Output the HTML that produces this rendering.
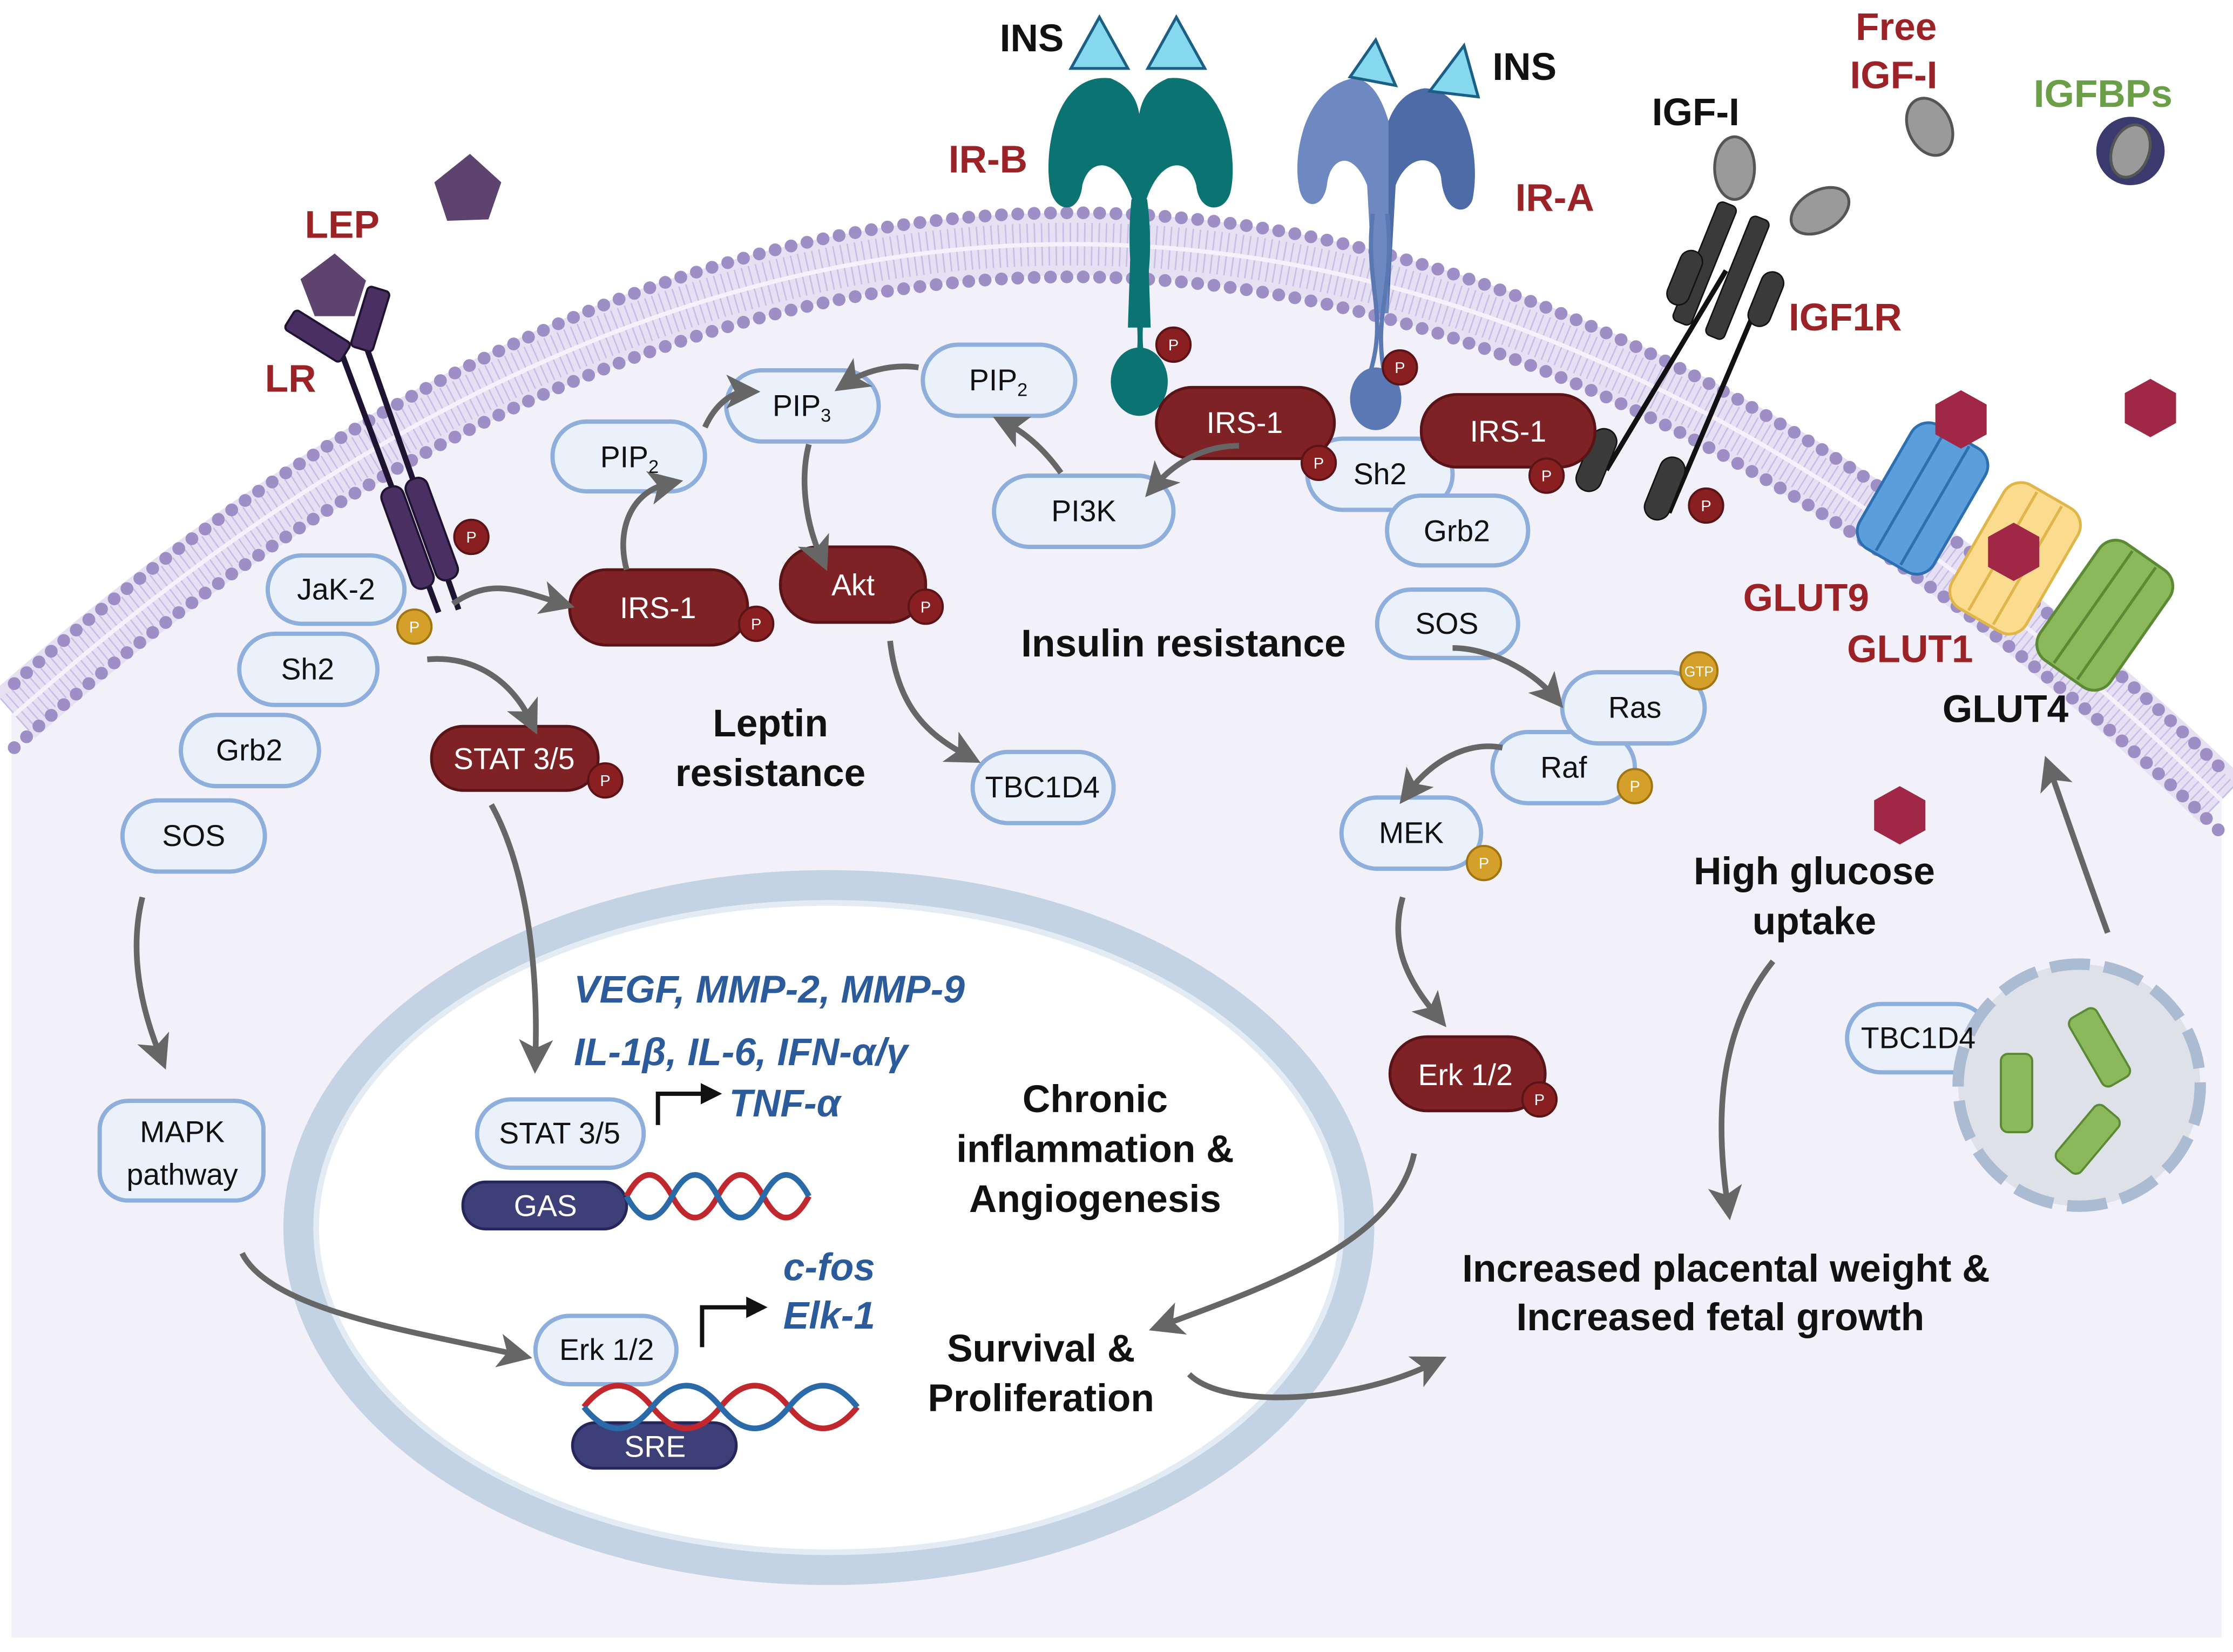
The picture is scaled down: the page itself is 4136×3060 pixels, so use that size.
<!DOCTYPE html>
<html><head><meta charset="utf-8"><style>
html,body{margin:0;padding:0;background:#fff;}
svg{display:block;}
text{font-family:"Liberation Sans",sans-serif;}
</style></head><body>
<svg width="4136" height="3060" viewBox="0 0 1568 1160" xmlns="http://www.w3.org/2000/svg">
<defs>
<marker id="ah" markerWidth="6" markerHeight="6" refX="3" refY="3" orient="auto" markerUnits="strokeWidth">
<path d="M0,0 L6,3 L0,6 L1.5,3 Z" fill="#666"/></marker>
<marker id="bk" markerWidth="5" markerHeight="5" refX="2" refY="2.5" orient="auto" markerUnits="strokeWidth">
<path d="M0,0 L5,2.5 L0,5 Z" fill="#111"/></marker>
</defs>
<rect width="1568" height="1160" fill="#fff"/>
<path d="M8 480 Q 785 -210 1560 540 L1560 1150 L8 1150 Z" fill="#f2f0f8"/>
<path d="M10 502 Q 785 -188 1560 562" fill="none" stroke="#e6e0f3" stroke-width="44"/>
<path d="M10 502 Q 785 -188 1560 562" fill="none" stroke="#c8bde6" stroke-width="30" stroke-dasharray="1 4"/>
<path d="M10 502 Q 785 -188 1560 562" fill="none" stroke="#f4f1fa" stroke-width="3"/>
<path d="M10 480 Q 785 -210 1560 540" fill="none" stroke="#9d8fc6" stroke-width="9" stroke-linecap="round" stroke-dasharray="0 11.5"/>
<path d="M10 525 Q 785 -165 1560 585" fill="none" stroke="#9d8fc6" stroke-width="9" stroke-linecap="round" stroke-dasharray="0 11.5"/>

<ellipse cx="582" cy="862" rx="372" ry="240" fill="#fff" stroke="#c4d3e4" stroke-width="22"/>
<ellipse cx="582" cy="862" rx="360" ry="228" fill="none" stroke="#e3ebf4" stroke-width="4"/>

<polygon points="330,108 352,128 343,154 314,155 305,128" fill="#5e436e"/>
<polygon points="235,178 257,197 249,222 221,222 211,196" fill="#5e436e"/>
<text x="214" y="167" font-size="27" font-weight="bold" fill="#9b2226">LEP</text>
<text x="186" y="275" font-size="27" font-weight="bold" fill="#9b2226">LR</text>
<g stroke="#1e1330" stroke-width="4">
<line x1="238" y1="243" x2="308" y2="430"/><line x1="256" y1="240" x2="322" y2="428"/></g>
<rect x="200" y="228" width="46" height="16" rx="3" fill="#4a2f63" stroke="#1e1330" stroke-width="1.5" transform="rotate(32 223 236)"/>
<rect x="252" y="202" width="16" height="44" rx="3" fill="#4a2f63" stroke="#1e1330" stroke-width="1.5" transform="rotate(17 260 224)"/>
<rect x="278" y="340" width="16" height="75" rx="7" fill="#4a2f63" stroke="#1e1330" stroke-width="1.5" transform="rotate(-20 286 377)"/>
<rect x="295" y="334" width="16" height="75" rx="7" fill="#4a2f63" stroke="#1e1330" stroke-width="1.5" transform="rotate(-20 303 371)"/>

<g fill="#0b7473">
<path d="M780 55 C740 50 732 110 738 135 C743 150 758 150 760 130 C765 110 785 110 795 140 L792 230 L808 230 L805 140 C815 110 835 110 840 130 C842 150 860 150 864 135 C870 110 860 50 820 55 C808 60 802 68 800 80 C798 68 792 60 780 55Z"/>
<ellipse cx="800" cy="268" rx="20" ry="24"/>
</g>
<path d="M796 140 C790 200 806 220 798 262 M804 140 C812 200 794 220 804 262" stroke="#0b7473" stroke-width="3" fill="none"/>
<polygon points="772,12 792,48 752,48" fill="#86d8ef" stroke="#1b5e86" stroke-width="2"/>
<polygon points="826,12 846,48 806,48" fill="#86d8ef" stroke="#1b5e86" stroke-width="2"/>
<text x="702" y="36" font-size="27" font-weight="bold" fill="#111">INS</text>
<text x="666" y="121" font-size="27" font-weight="bold" fill="#9b2226">IR-B</text>

<g>
<path d="M950 55 C915 62 908 110 912 130 C914 148 930 148 932 128 C935 110 950 105 960 130 L965 220 L975 220 L980 130 C990 105 1010 110 1012 125 C1014 150 1030 152 1034 140 C1040 110 1030 62 1000 62 C988 64 980 72 975 85 C970 68 962 55 950 55Z" fill="#6e88c2"/>
<path d="M975 85 C980 72 988 64 1000 62 C1030 62 1040 110 1034 140 C1030 152 1014 150 1012 125 C1010 110 990 105 980 130 L975 220 Z" fill="#4d6ba6"/>
<ellipse cx="966" cy="280" rx="18" ry="22" fill="#5a78b3"/>
<path d="M964 150 C958 200 975 220 962 262 M974 150 C980 200 964 220 972 262" stroke="#5a78b3" stroke-width="3" fill="none"/>
</g>
<polygon points="966,28 980,60 948,54" fill="#86d8ef" stroke="#1b5e86" stroke-width="2"/>
<polygon points="1028,32 1038,68 1004,64" fill="#86d8ef" stroke="#1b5e86" stroke-width="2"/>
<text x="1048" y="56" font-size="27" font-weight="bold" fill="#111">INS</text>
<text x="1064" y="148" font-size="27" font-weight="bold" fill="#9b2226">IR-A</text>

<g stroke="#111" stroke-width="3.5"><line x1="1212" y1="190" x2="1128" y2="330"/><line x1="1240" y1="200" x2="1172" y2="360"/></g>
<rect x="1190" y="140" width="14" height="90" rx="4" fill="#3a3a3a" stroke="#111" transform="rotate(22 1197 185)"/>
<rect x="1213" y="150" width="14" height="90" rx="4" fill="#3a3a3a" stroke="#111" transform="rotate(22 1220 195)"/>
<rect x="1175" y="175" width="16" height="40" rx="8" fill="#3a3a3a" stroke="#111" transform="rotate(22 1183 195)"/>
<rect x="1232" y="190" width="16" height="40" rx="8" fill="#3a3a3a" stroke="#111" transform="rotate(22 1240 210)"/>
<rect x="1112" y="300" width="18" height="46" rx="9" fill="#3a3a3a" stroke="#111" transform="rotate(22 1121 323)"/>
<rect x="1160" y="320" width="18" height="46" rx="9" fill="#3a3a3a" stroke="#111" transform="rotate(22 1169 343)"/>
<ellipse cx="1218" cy="118" rx="14" ry="22" fill="#9a9a9a" stroke="#555" stroke-width="2"/>
<ellipse cx="1278" cy="148" rx="22" ry="14" fill="#9a9a9a" stroke="#555" stroke-width="2" transform="rotate(-30 1278 148)"/>
<ellipse cx="1355" cy="89" rx="15" ry="21" fill="#9a9a9a" stroke="#555" stroke-width="2" transform="rotate(-25 1355 89)"/>
<circle cx="1496" cy="106" r="24" fill="#3b3a6e"/>
<ellipse cx="1496" cy="106" rx="13" ry="19" fill="#9a9a9a" stroke="#555" stroke-width="2" transform="rotate(20 1496 106)"/>
<text x="1160" y="88" font-size="27" font-weight="bold" fill="#111">IGF-I</text>
<text x="1303" y="28" font-size="27" font-weight="bold" fill="#9b2226">Free</text>
<text x="1299" y="62" font-size="27" font-weight="bold" fill="#9b2226">IGF-I</text>
<text x="1428" y="75" font-size="27" font-weight="bold" fill="#6a9f48">IGFBPs</text>
<text x="1256" y="232" font-size="27" font-weight="bold" fill="#9b2226">IGF1R</text>

<g transform="rotate(30 1350 350)"><rect x="1320" y="300" width="60" height="100" rx="14" fill="#5a9fdc" stroke="#2e6fb0" stroke-width="2"/><line x1="1340" y1="302" x2="1340" y2="398" stroke="#2e6fb0" stroke-width="2"/><line x1="1360" y1="302" x2="1360" y2="398" stroke="#2e6fb0" stroke-width="2"/></g>
<g transform="rotate(30 1415 392)"><rect x="1385" y="342" width="60" height="100" rx="14" fill="#fbdc8e" stroke="#e0b64a" stroke-width="2"/><line x1="1405" y1="344" x2="1405" y2="440" stroke="#e0b64a" stroke-width="2"/><line x1="1425" y1="344" x2="1425" y2="440" stroke="#e0b64a" stroke-width="2"/></g>
<g transform="rotate(35 1478 432)"><rect x="1448" y="382" width="60" height="100" rx="14" fill="#8ab85a" stroke="#5c8a34" stroke-width="2"/><line x1="1468" y1="384" x2="1468" y2="480" stroke="#5c8a34" stroke-width="2"/><line x1="1488" y1="384" x2="1488" y2="480" stroke="#5c8a34" stroke-width="2"/></g>
<polygon points="1377,274 1395,284 1395,305 1377,315 1359,305 1359,284" fill="#a02846"/>
<polygon points="1510,266 1528,276 1528,297 1510,307 1492,297 1492,276" fill="#a02846"/>
<polygon points="1414,367 1432,377 1432,398 1414,408 1396,398 1396,377" fill="#a02846"/>
<polygon points="1334,552 1352,562 1352,583 1334,593 1316,583 1316,562" fill="#a02846"/>
<text x="1224" y="429" font-size="27" font-weight="bold" fill="#9b2226">GLUT9</text>
<text x="1297" y="465" font-size="27" font-weight="bold" fill="#9b2226">GLUT1</text>
<text x="1364" y="507" font-size="27" font-weight="bold" fill="#111">GLUT4</text>

<g fill="#ebf1fb" stroke="#8eaedc" stroke-width="3">
<rect x="188" y="390" width="96" height="48" rx="24"/>
<rect x="168" y="445" width="97" height="50" rx="25"/>
<rect x="127" y="502" width="97" height="50" rx="25"/>
<rect x="86" y="562" width="100" height="50" rx="25"/>
<rect x="70" y="773" width="115" height="70" rx="20"/>
<rect x="388" y="296" width="107" height="49" rx="24"/>
<rect x="510" y="260" width="107" height="50" rx="25"/>
<rect x="648" y="242" width="107" height="50" rx="25"/>
<rect x="698" y="334" width="126" height="50" rx="25"/>
<rect x="683" y="528" width="99" height="50" rx="25"/>
<rect x="918" y="308" width="102" height="50" rx="25"/>
<rect x="974" y="348" width="99" height="49" rx="24"/>
<rect x="967" y="414" width="99" height="48" rx="24"/>
<rect x="1048" y="514" width="100" height="50" rx="25"/>
<rect x="1097" y="472" width="100" height="50" rx="25"/>
<rect x="942" y="560" width="98" height="50" rx="25"/>
<rect x="1297" y="705" width="100" height="48" rx="24"/>
<rect x="335" y="772" width="117" height="48" rx="24"/>
<rect x="376" y="924" width="99" height="48" rx="24"/>
</g>
<g fill="#7f2226" stroke="#5a1418" stroke-width="2">
<rect x="400" y="400" width="125" height="53" rx="26"/>
<rect x="548" y="384" width="102" height="53" rx="26"/>
<rect x="303" y="510" width="117" height="45" rx="22"/>
<rect x="812" y="272" width="125" height="50" rx="25"/>
<rect x="998" y="277" width="122" height="51" rx="25"/>
<rect x="976" y="728" width="109" height="52" rx="26"/>
</g>
<g fill="#3d3f78" stroke="#25265a" stroke-width="2">
<rect x="325" y="830" width="115" height="33" rx="16"/>
<rect x="402" y="999" width="115" height="32" rx="16"/>
</g>

<g fill="none" stroke-width="4">
<path d="M440 840 q16 -30 32 0 t32 0 t32 0 t32 0" stroke="#c0282d"/>
<path d="M440 840 q16 30 32 0 t32 0 t32 0 t32 0" stroke="#2a6aa8"/>
<path d="M410 988 q24 -30 48 0 t48 0 t48 0 t48 0" stroke="#c0282d"/>
<path d="M410 988 q24 30 48 0 t48 0 t48 0 t48 0" stroke="#2a6aa8"/>
</g>
<path d="M462 790 L462 768 L498 768" fill="none" stroke="#111" stroke-width="3" marker-end="url(#bk)"/>
<path d="M493 946 L493 918 L530 918" fill="none" stroke="#111" stroke-width="3" marker-end="url(#bk)"/>

<g fill="#8a1f22" stroke="#5a1418" stroke-width="1.5">
<circle cx="331" cy="377" r="12"/><circle cx="531" cy="438" r="12"/><circle cx="650" cy="426" r="12"/>
<circle cx="425" cy="548" r="12"/><circle cx="824" cy="242" r="12"/><circle cx="983" cy="258" r="12"/>
<circle cx="926" cy="325" r="12"/><circle cx="1086" cy="334" r="12"/><circle cx="1198" cy="355" r="12"/>
<circle cx="1081" cy="772" r="12"/>
</g>
<g fill="#d4a02a" stroke="#a07410" stroke-width="1.5">
<circle cx="291" cy="440" r="12"/><circle cx="1148" cy="552" r="12"/><circle cx="1042" cy="606" r="12"/><circle cx="1193" cy="471" r="13"/>
</g>
<g font-size="11" fill="#fff" text-anchor="middle">
<text x="331" y="381">P</text><text x="531" y="442">P</text><text x="650" y="430">P</text><text x="425" y="552">P</text>
<text x="824" y="246">P</text><text x="983" y="262">P</text><text x="926" y="329">P</text><text x="1086" y="338">P</text>
<text x="1198" y="359">P</text><text x="1081" y="776">P</text><text x="291" y="444">P</text><text x="1148" y="556">P</text>
<text x="1042" y="610">P</text><text x="1193" y="475" font-size="10">GTP</text>
</g>

<circle cx="1460" cy="762" r="85" fill="#dfe1e9" stroke="#aabbd2" stroke-width="8" stroke-dasharray="28 10"/>
<g fill="#8ab85a" stroke="#5c8a34" stroke-width="1.5">
<rect x="1405" y="740" width="22" height="55" rx="5"/>
<rect x="1463" y="708" width="22" height="55" rx="5" transform="rotate(-30 1474 735)"/>
<rect x="1455" y="775" width="22" height="50" rx="5" transform="rotate(40 1466 800)"/>
</g>

<g fill="none" stroke="#666" stroke-width="4" marker-end="url(#ah)">
<path d="M318 424 C345 405 365 415 392 423"/>
<path d="M300 463 C335 460 360 480 372 505"/>
<path d="M440 400 C432 370 445 345 468 340"/>
<path d="M495 300 C505 278 520 275 522 275"/>
<path d="M645 258 C625 255 605 262 596 268"/>
<path d="M568 312 C562 335 565 365 576 390"/>
<path d="M745 332 C735 318 722 305 708 298"/>
<path d="M870 313 C845 313 825 325 812 340"/>
<path d="M625 450 C630 495 650 515 678 530"/>
<path d="M1020 455 C1045 455 1075 470 1090 488"/>
<path d="M1055 525 C1030 520 1005 535 990 555"/>
<path d="M985 630 C975 665 990 690 1008 712"/>
<path d="M345 565 C370 610 378 680 376 742"/>
<path d="M100 630 C90 670 100 710 112 740"/>
<path d="M170 880 C190 920 290 935 362 951"/>
<path d="M993 810 C980 870 900 900 818 930"/>
<path d="M835 965 C860 990 950 985 1005 958"/>
<path d="M1245 675 C1205 725 1205 790 1213 845"/>
<path d="M1480 655 C1460 600 1450 570 1440 542"/>
</g>

<g font-size="21" fill="#111" text-anchor="middle">
<text x="236" y="421">JaK-2</text><text x="216" y="477">Sh2</text><text x="175" y="534">Grb2</text><text x="136" y="594">SOS</text>
<text x="128" y="802">MAPK</text><text x="128" y="832">pathway</text>
<text x="442" y="328">PIP<tspan font-size="13" dy="4">2</tspan></text>
<text x="563" y="292">PIP<tspan font-size="13" dy="4">3</tspan></text>
<text x="701" y="274">PIP<tspan font-size="13" dy="4">2</tspan></text>
<text x="761" y="366">PI3K</text><text x="732" y="560">TBC1D4</text>
<text x="969" y="340">Sh2</text><text x="1023" y="380">Grb2</text><text x="1016" y="445">SOS</text>
<text x="1148" y="504">Ras</text><text x="1098" y="546">Raf</text><text x="991" y="592">MEK</text>
<text x="1347" y="736">TBC1D4</text><text x="393" y="803">STAT 3/5</text><text x="426" y="955">Erk 1/2</text>
</g>
<g font-size="21" fill="#fff" text-anchor="middle">
<text x="462" y="434">IRS-1</text><text x="599" y="418">Akt</text><text x="361" y="540">STAT 3/5</text>
<text x="874" y="304">IRS-1</text><text x="1059" y="310">IRS-1</text><text x="1029" y="762">Erk 1/2</text>
<text x="383" y="854">GAS</text><text x="460" y="1023">SRE</text>
</g>

<g font-size="27" font-weight="bold" fill="#111" text-anchor="middle">
<text x="541" y="517">Leptin</text><text x="541" y="552">resistance</text>
<text x="831" y="461">Insulin resistance</text>
<text x="1274" y="621">High glucose</text><text x="1274" y="656">uptake</text>
<text x="769" y="781">Chronic</text><text x="769" y="816">inflammation &amp;</text><text x="769" y="851">Angiogenesis</text>
<text x="731" y="956">Survival &amp;</text><text x="731" y="991">Proliferation</text>
<text x="1212" y="900">Increased placental weight &amp;</text><text x="1208" y="934">Increased fetal growth</text>
</g>
<g font-size="27" font-weight="bold" font-style="italic" fill="#2b5b9a">
<text x="403" y="704">VEGF, MMP-2, MMP-9</text>
<text x="403" y="748">IL-1β, IL-6, IFN-α/γ</text>
<text x="512" y="784">TNF-α</text>
<text x="550" y="899">c-fos</text>
<text x="550" y="933">Elk-1</text>
</g>
</svg>
</body></html>
